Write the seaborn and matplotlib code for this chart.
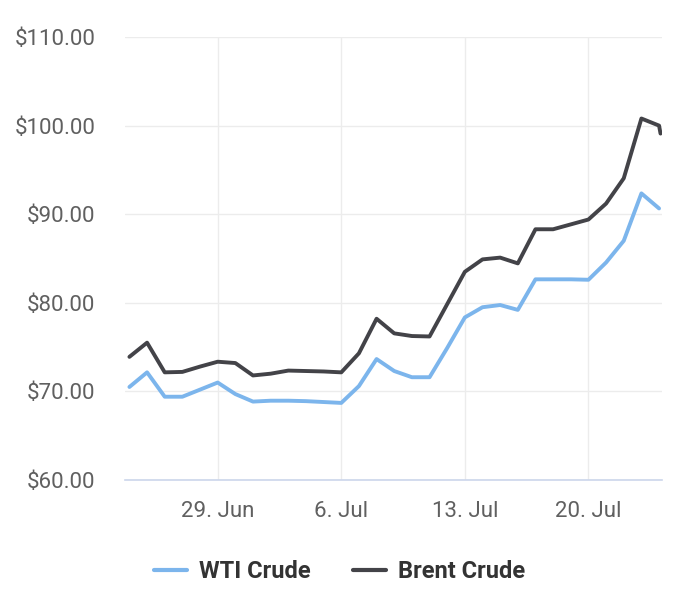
import matplotlib
matplotlib.use("Agg")
import matplotlib.pyplot as plt
import matplotlib.dates as mdates
from matplotlib.ticker import FuncFormatter
from matplotlib.lines import Line2D
import seaborn as sns
import pandas as pd

dates = list(pd.date_range("2022-06-24", "2022-07-24", freq="D"))
wti = [70.5, 72.15, 69.4, 69.4, 70.2, 71.0, 69.7, 68.85, 68.95, 68.95, 68.9, 68.8, 68.7,
       70.6, 73.65, 72.3, 71.6, 71.6, 74.9, 78.35, 79.5, 79.75, 79.2, 82.65, 82.65, 82.65,
       82.6, 84.55, 87.0, 92.35, 90.65]
brent = [73.9, 75.5, 72.15, 72.2, 72.8, 73.35, 73.2, 71.8, 72.0, 72.35, 72.3, 72.25, 72.15,
         74.3, 78.2, 76.55, 76.25, 76.2, 79.85, 83.5, 84.9, 85.1, 84.45, 88.3, 88.3, 88.85,
         89.4, 91.2, 94.05, 100.8, 100.0, 99.1]
brent_dates = dates + [pd.Timestamp("2022-07-24 02:00")]
series_names = ["WTI Crude", "Brent Crude"]
colors = ["#7cb5ec", "#434348"]
y_ticks = [60, 70, 80, 90, 100, 110]
x_ticks = ["2022-06-29", "2022-07-06", "2022-07-13", "2022-07-20"]

df = pd.concat([
    pd.DataFrame({"date": dates, "price": wti, "series": series_names[0]}),
    pd.DataFrame({"date": brent_dates, "price": brent, "series": series_names[1]}),
], ignore_index=True)

sns.set_style("white")
plt.rcParams["font.family"] = ["Roboto", "DejaVu Sans"]

fig = plt.figure(figsize=(7, 6.03), dpi=100)
ax = fig.add_axes([125 / 700, 1 - 480 / 603, (662 - 125) / 700, (480 - 37) / 603])

sns.lineplot(data=df, x="date", y="price", hue="series", palette=colors,
             hue_order=series_names, linewidth=2.8, ax=ax, legend=False,
             estimator=None, sort=False)

ax.set_ylim(60, 110)
ax.set_yticks(y_ticks)
ax.yaxis.set_major_formatter(FuncFormatter(lambda v, p: f"${v:.2f}"))
ax.set_xlim(pd.Timestamp("2022-06-23 18:00"), pd.Timestamp("2022-07-24 04:00"))
ax.set_xticks([pd.Timestamp(t) for t in x_ticks])
ax.xaxis.set_major_formatter(FuncFormatter(
    lambda v, p: f"{mdates.num2date(v).day}. {mdates.num2date(v).strftime('%b')}"))

ax.grid(True, color="#ececec", linewidth=1)
ax.set_axisbelow(True)
for s in ["top", "right", "left"]:
    ax.spines[s].set_visible(False)
ax.spines["bottom"].set_color("#ccd6eb")
ax.spines["bottom"].set_linewidth(1.2)
ax.tick_params(axis="y", length=0, pad=21.5, labelsize=16, labelcolor="#606060")
ax.tick_params(axis="x", length=8, width=1, color="#cccccc", pad=7,
               labelsize=16, labelcolor="#606060")
ax.set_xlabel("")
ax.set_ylabel("")

handles = [Line2D([], [], color=c, linewidth=3) for c in colors]
leg = fig.legend(handles, series_names, loc="center", bbox_to_anchor=(0.485, 1 - 572 / 603),
                 ncol=2, frameon=False, handlelength=1.4, handletextpad=0.5,
                 columnspacing=1.8,
                 prop={"family": ["Roboto", "DejaVu Sans"], "weight": "bold", "size": 17})
for t in leg.get_texts():
    t.set_color("#333333")

fig.savefig("out.png", dpi=100)
